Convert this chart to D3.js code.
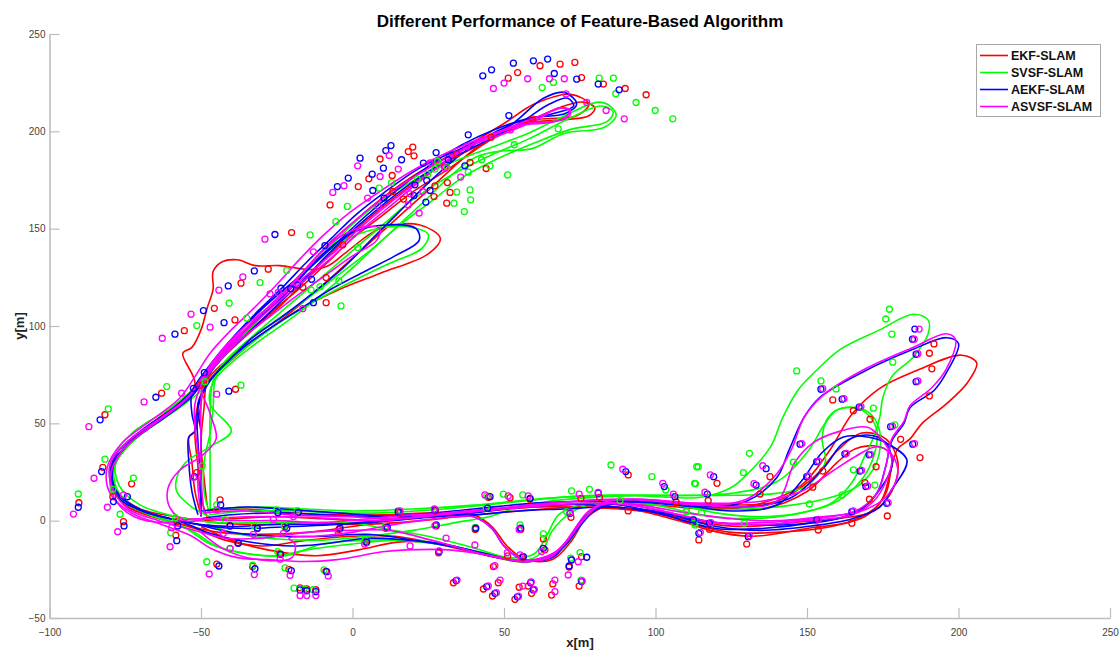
<!DOCTYPE html>
<html>
<head>
<meta charset="utf-8">
<script src="https://cdn.jsdelivr.net/npm/d3@7"></script>
<style>
  html, body { margin: 0; padding: 0; background: #fff; }
  svg { display: block; font-family: "Liberation Sans", Arial, Helvetica, sans-serif; }
</style>
</head>
<body>
<svg id="chart" width="1119" height="650"></svg>
<script>
// ---- Data -------------------------------------------------------------
const seriesNames = ["EKF-SLAM", "SVSF-SLAM", "AEKF-SLAM", "ASVSF-SLAM"];
const xTicks = [-100, -50, 0, 50, 100, 150, 200, 250];
const yTicks = [-50, 0, 50, 100, 150, 200, 250];

// Estimated vehicle trajectories, one array of laps per algorithm (x[m], y[m])
const ekfPath = [
  [[-49,0],[-40,1],[-25,2],[-10,1],[5,0],[20,2],[40,5],[60,7],[80,9],[100,8],[118,6],[135,9],[148,18],[157,35],[165,55],[174,68],[186,77],[201,85],[206,81],[203,71],[196,60],[188,50],[184,42],[180,37],[178,28],[176,14],[170,3],[158,-3],[140,-6],[125,-6],[110,-1],[95,5],[83,7],[76,0],[70,-12],[64,-19],[55,-21],[42,-17],[28,-12],[14,-8],[0,-8],[-15,-10],[-30,-13],[-42,-10],[-52,-4],[-65,2],[-75,8],[-79,18],[-78,30],[-71,43],[-60,56],[-51,68],[-46,80],[-39,92],[-31,104],[-23,117],[-15,130],[-8,142],[0,153],[10,166],[22,179],[36,191],[50,204],[60,214],[72,219],[78,214],[74,208],[61,206],[48,199],[38,188],[28,174],[18,160],[8,146],[-2,132],[-12,118],[-22,105],[-32,93],[-41,81],[-48,71],[-51,60],[-52,45],[-51,28],[-50,12],[-48,2]],
  [[-50,-3],[-40,-10],[-28,-15],[-12,-18],[2,-15],[15,-11],[30,-12],[45,-18],[57,-21],[65,-19],[71,-10],[76,1],[82,8],[92,10],[105,9],[120,7],[135,6],[150,15],[160,30],[166,37],[174,38],[178,33],[177,22],[174,9],[165,0],[150,-4],[132,-8],[118,-5],[105,2],[92,6],[75,7],[55,5],[35,2],[15,-1],[0,-2],[-15,-1],[-30,-2],[-45,-1],[-58,2],[-70,6],[-77,14],[-80,25],[-76,36],[-68,48],[-58,60],[-52,70],[-56,86],[-53,89],[-50,98],[-48,109],[-46,119],[-46,128],[-43,133],[-38,134],[-32,131],[-24,131],[-14,129],[-8,131],[-2,138],[9,150],[22,152],[29,145],[25,137],[9,127],[-4,119],[-17,109],[-27,99],[-36,89],[-44,79],[-49,70],[-50,60],[-52,46],[-54,43],[-53,30],[-52,15],[-50,3]],
  [[-48,5],[-35,6],[-20,4],[-5,3],[10,3],[28,4],[40,3],[46,-3],[51,-13],[57,-20],[66,-20],[72,-11],[77,1],[84,8],[95,10],[110,9],[125,8],[140,10],[152,22],[160,36],[168,45],[176,42],[180,30],[178,15],[172,5],[160,1],[145,-1],[130,-3],[115,-1],[100,4],[88,6],[75,7],[60,7],[45,5],[30,3],[15,1],[0,-3],[-15,-6],[-30,-7],[-44,-6],[-56,-2],[-66,2],[-74,7],[-79,16],[-79,27],[-74,39],[-63,52],[-54,62],[-49,73],[-42,85],[-33,98],[-24,110],[-16,123],[-8,136],[0,148],[9,160],[20,173],[32,185],[46,196],[58,205],[68,212],[76,215],[80,212],[78,208],[70,206],[57,204],[45,195],[32,181],[20,169],[10,157],[0,145],[-8,133],[-17,120],[-27,107],[-36,95],[-44,83],[-48,72],[-49,58],[-50,40],[-49,22],[-48,8]]
];

const svsfPath = [
  [[-47,3],[-35,5],[-20,5],[-5,4],[10,4],[30,6],[50,9],[70,12],[90,13],[105,12],[115,12],[125,17],[131,25],[138,38],[142,53],[147,67],[153,77],[161,88],[174,98],[185,106],[190,103],[190,96],[185,84],[178,74],[175,63],[174,53],[172,43],[169,33],[165,20],[158,9],[145,3],[130,1],[115,3],[100,8],[88,9],[80,7],[75,-3],[69,-15],[62,-20],[54,-20],[42,-16],[28,-12],[14,-10],[0,-12],[-15,-15],[-25,-18],[-38,-16],[-47,-12],[-55,-4],[-67,3],[-76,10],[-80,20],[-79,33],[-72,46],[-60,58],[-51,70],[-46,82],[-38,94],[-30,106],[-22,119],[-14,131],[-6,143],[2,155],[12,167],[24,178],[36,186],[48,193],[58,199],[70,208],[81,215],[85,213],[87,208],[83,202],[70,199],[59,191],[50,190],[41,187],[33,178],[25,166],[16,153],[7,140],[-2,127],[-11,115],[-21,103],[-31,92],[-40,81],[-46,71],[-47,60],[-40,46],[-47,38],[-55,30],[-58,22],[-58,15],[-53,7],[-47,2]],
  [[-48,-2],[-40,-6],[-28,-9],[-10,-10],[5,-8],[20,-5],[34,-1],[45,2],[55,7],[65,10],[80,12],[95,13],[110,13],[125,14],[140,20],[150,35],[156,50],[160,57],[168,57],[173,47],[172,33],[168,21],[160,10],[148,4],[135,2],[120,4],[105,9],[90,10],[80,9],[72,4],[66,-5],[62,-17],[55,-21],[46,-18],[33,-13],[20,-10],[5,-10],[-10,-12],[-22,-18],[-35,-17],[-45,-13],[-52,-6],[-62,1],[-72,7],[-78,17],[-78,30],[-71,43],[-60,56],[-51,68],[-44,82],[-36,95],[-28,108],[-20,120],[-12,133],[-4,143],[8,150],[18,151],[25,147],[23,140],[12,132],[0,123],[-11,114],[-22,104],[-31,94],[-39,84],[-45,74],[-46,58],[-47,45],[-49,30],[-49,15],[-47,3]],
  [[-47,6],[-30,7],[-15,6],[0,5],[20,6],[40,8],[60,11],[80,13],[100,13],[120,13],[140,14],[150,18],[156,30],[155,42],[157,53],[162,58],[170,56],[174,46],[173,30],[167,18],[158,12],[145,8],[130,6],[115,6],[100,10],[85,10],[75,8],[68,3],[64,-8],[60,-17],[52,-19],[40,-14],[25,-8],[10,-4],[0,-1],[-15,-1],[-30,-1],[-45,-1],[-58,2],[-70,8],[-77,18],[-78,31],[-70,44],[-58,57],[-49,68],[-43,80],[-35,92],[-26,104],[-17,116],[-8,128],[1,140],[10,152],[20,165],[32,177],[46,188],[58,196],[72,207],[82,213],[86,210],[84,205],[72,201],[60,194],[48,186],[36,176],[26,164],[15,151],[6,139],[-4,127],[-15,114],[-26,102],[-35,92],[-42,82],[-46,72],[-47,55],[-47,38],[-47,20],[-47,6]]
];

const aekfPath = [
  [[-50,1],[-40,3],[-25,4],[-10,3],[5,2],[20,3],[40,6],[60,9],[80,10],[100,9],[115,7],[130,10],[140,22],[144,36],[149,53],[154,63],[168,76],[185,88],[196,94],[200,91],[196,76],[192,67],[184,58],[182,50],[178,41],[176,28],[173,14],[166,4],[152,-1],[135,-4],[120,-4],[105,2],[92,7],[82,8],[76,-1],[70,-13],[64,-19],[56,-21],[44,-17],[30,-12],[18,-10],[5,-9],[-10,-12],[-20,-13],[-34,-11],[-46,-7],[-56,-1],[-67,4],[-76,10],[-80,21],[-78,34],[-70,46],[-59,58],[-51,70],[-46,82],[-39,95],[-31,108],[-23,120],[-15,133],[-7,145],[1,157],[10,168],[22,181],[37,192],[52,203],[63,217],[70,220],[74,214],[70,209],[59,207],[47,201],[36,193],[25,182],[14,169],[4,156],[-5,143],[-14,130],[-24,117],[-33,104],[-41,91],[-48,78],[-53,66],[-53,55],[-52,46],[-54,43],[-54,30],[-53,15],[-51,3]],
  [[-51,-2],[-40,-6],[-25,-8],[-10,-8],[5,-7],[20,-10],[35,-14],[48,-19],[57,-21],[65,-19],[71,-10],[77,2],[84,9],[95,10],[110,8],[125,5],[140,8],[148,20],[155,35],[162,43],[170,43],[176,40],[183,31],[178,16],[174,7],[165,1],[150,-3],[135,-5],[120,-3],[105,3],[92,6],[80,8],[65,8],[50,6],[35,3],[20,1],[5,-1],[-10,-2],[-25,-2],[-40,-3],[-50,-2],[-60,1],[-69,5],[-77,13],[-80,26],[-75,38],[-64,51],[-54,63],[-48,75],[-42,88],[-34,100],[-25,112],[-17,125],[-9,138],[0,148],[12,152],[21,150],[22,144],[14,136],[4,128],[-7,119],[-17,109],[-27,99],[-36,89],[-43,79],[-48,70],[-51,60],[-50,45],[-50,30],[-50,15],[-50,2]],
  [[-50,5],[-35,7],[-23,6],[-5,4],[16,2],[30,3],[40,2],[46,-4],[50,-13],[56,-20],[66,-19],[71,-10],[76,1],[84,8],[95,10],[115,8],[130,7],[145,12],[156,28],[162,40],[170,44],[176,40],[178,28],[174,16],[168,6],[160,1],[145,-2],[130,-2],[115,0],[100,5],[85,7],[70,6],[55,5],[40,3],[25,2],[10,0],[-5,-2],[-20,-3],[-35,-4],[-47,-3],[-60,1],[-71,6],[-78,15],[-79,28],[-73,41],[-62,53],[-53,64],[-48,74],[-41,87],[-32,100],[-24,112],[-16,124],[-8,137],[0,149],[9,161],[19,173],[30,184],[44,195],[56,205],[65,214],[71,217],[73,213],[66,209],[55,205],[44,197],[34,186],[24,172],[15,158],[6,144],[-3,130],[-13,117],[-23,105],[-33,94],[-41,82],[-47,72],[-51,58],[-51,40],[-50,22],[-50,5]]
];

const asvsfPath = [
  [[-48,1],[-35,2],[-20,2],[-5,1],[10,0],[25,3],[45,6],[65,9],[85,11],[100,10],[115,8],[130,11],[140,24],[145,37],[149,53],[155,64],[168,77],[185,89],[196,96],[199,93],[196,78],[191,68],[184,59],[182,51],[178,42],[176,28],[173,14],[166,5],[152,1],[135,-1],[120,-1],[105,4],[92,8],[82,9],[76,0],[70,-12],[64,-19],[56,-21],[46,-18],[32,-15],[18,-15],[10,-16],[-5,-20],[-16,-21],[-28,-20],[-38,-19],[-47,-14],[-53,-8],[-63,-2],[-73,4],[-80,14],[-81,27],[-76,40],[-66,52],[-57,63],[-52,74],[-47,86],[-40,98],[-32,110],[-24,123],[-17,135],[-10,146],[-2,157],[8,168],[20,180],[34,191],[50,201],[62,208],[70,212],[72,209],[67,205],[55,203],[44,197],[33,187],[22,174],[12,161],[2,148],[-7,135],[-17,122],[-27,109],[-36,96],[-44,83],[-50,70],[-47,55],[-45,42],[-50,33],[-57,26],[-61,16],[-60,6],[-55,0],[-48,1]],
  [[-50,-6],[-42,-15],[-31,-20],[-20,-19],[-19,-12],[-21,-9],[-12,-8],[0,-6],[10,-3],[22,0],[34,2],[40,2],[46,-4],[50,-13],[56,-20],[65,-19],[71,-10],[77,2],[84,10],[95,11],[110,9],[125,7],[140,10],[146,30],[152,40],[161,46],[170,48],[174,43],[178,32],[176,20],[172,10],[165,3],[150,0],[135,-2],[120,-1],[105,4],[92,8],[80,9],[65,8],[50,6],[35,4],[20,3],[5,1],[-10,-1],[-25,0],[-40,0],[-52,1],[-62,-1],[-72,2],[-78,10],[-80,22],[-76,36],[-66,49],[-55,62],[-49,74],[-43,86],[-35,99],[-26,112],[-18,125],[-11,137],[-4,146],[4,151],[9,150],[8,144],[0,136],[-9,126],[-18,116],[-28,104],[-37,93],[-44,82],[-49,72],[-52,60],[-52,48],[-51,35],[-51,18],[-50,3]],
  [[-49,4],[-35,5],[-20,3],[0,2],[15,1],[35,4],[55,7],[75,10],[95,11],[115,9],[135,10],[148,15],[158,25],[166,33],[173,38],[178,34],[180,24],[176,12],[168,5],[155,2],[140,0],[125,1],[110,4],[95,8],[85,9],[78,5],[73,-5],[68,-15],[60,-20],[52,-20],[40,-16],[26,-10],[12,-5],[0,-5],[-15,-6],[-30,-9],[-42,-9],[-52,-5],[-64,0],[-74,6],[-79,16],[-80,29],[-74,41],[-63,53],[-54,64],[-49,75],[-43,87],[-35,99],[-27,111],[-19,123],[-12,135],[-5,146],[3,157],[13,169],[24,180],[38,192],[52,200],[62,207],[68,212],[72,211],[69,206],[58,204],[46,198],[35,189],[24,177],[13,164],[3,151],[-6,138],[-16,125],[-26,112],[-36,99],[-44,86],[-49,74],[-50,58],[-50,40],[-50,22],[-49,4]]
];

// Estimated landmark positions per algorithm (x[m], y[m])
const ekfLandmarks = [
  [61.9,233.7],[68.5,234.5],[73.4,235.4],[54.5,230.2],[51.4,227.3],[75.6,227.6],[82.8,224.3],[90,222],[96.9,218.8],[59.3,206.4],[45.7,197],[34.4,188.3],[38.8,184],[44.1,180.9],[18.4,189.6],[19.9,191.9],[20.3,187.4],[9.1,185.8],[13.1,177.3],[5.4,175.6],[1.9,171.6],[13.3,169.1],[16.8,165.2],[26.9,166.5],[31.1,163.1],[32.2,168.6],[27.2,172],[30.5,181.9],[31.3,173.7],[-7.4,162.2],
  [-20.1,148],[-27.8,129.2],[-36.8,122],[-45.6,109.1],[-38.8,103.1],[-55.5,97.6],[-8.7,112],[-3.2,141.7],[-8.7,124.9],[-16.4,119.9],[-63,65.5],[-38.6,67.5],[-50.3,69.7],
  [-81.7,54.4],[-82.4,27.4],[-90.3,9.2],[-79.1,12.3],[-72.9,18.9],[-51.4,24.7],
  [-75.6,-0.5],[-58.3,-7.5],[-58,-0.5],[-43.7,10.7],[-40.4,-2.7],[-44.8,-22.3],[-37.9,-11.3],[-31.4,-3.9],[-22.3,-3.1],[-33,-23.5],[-24,-17],[-21,-25],[-17.3,-34.5],[-15.1,-35],[-12.1,-35.5],[-8.8,-26],[-4.5,-4.5],[4.3,-11],[11,-3.5],
  [15.5,4],[27.4,5],[27.6,-2.7],[28.4,-16.5],[40.5,-4.5],[44.8,12],[52,11.8],[58.6,11],[55.5,-4.5],[63,-9.4],[63.5,-15],[51.2,-18.1],[56,-18.8],[46.5,-23.6],[33.3,-31.9],[48.1,-31.9],[43.2,-35.1],[46.2,-38.7],[53.6,-40.4],[55,-34.2],[58,-33.6],[59.1,-37.3],[66.1,-32.5],[65.7,-38.2],[71.5,-23.8],[75.6,-18.5],[74.8,-33.6],[75.4,11.5],[81.5,12],[72.1,1.7],[91,23.5],[91,5],[106.8,9.6],[114.3,-9.9],[120.3,19.2],[117.4,10.3],
  [191.9,90.8],[190.4,86],[191.2,78],[190.4,64.1],[187.3,32.4],[180.9,41.8],[165.3,56.5],[170.8,52.1],[158.5,62],[155.2,25.5],[151.9,17.2],[137.8,22.6],[134.5,13.7],[170.6,11],[172.8,27.7],[169.1,19.5],[176.5,2.4],[164.8,-1.3],[153.7,-4.8],[130.1,-12],[117.8,-4.4]
];

const svsfLandmarks = [
  [81.4,227.3],[86.1,227.3],[66.3,225.1],[62.6,222.5],[86.9,219.3],[93.6,214.8],[99.9,210.7],[105.7,206.4],[67.9,201.3],[53.4,193.1],[51.2,177.6],[42.6,185.4],[45.4,182.3],[38.2,179],[38.8,169.9],[39,164.8],[34.4,168.8],[33.5,163.1],[36.9,158.8],[28.1,184.5],[24.8,178],[21.4,175.4],[31.1,181.9],[8.8,170.8],[-1.7,161.4],[12.9,173.7],[27.2,180.6],[-5.5,153.6],
  [-14,146.8],[-21.7,128.5],[-30.5,122.3],[-40.7,111.7],[-34.9,104],[-51.4,100.2],[-3.8,110.3],[1.7,140.3],[-4.5,123.2],[-10.7,120.2],[-13.7,118.6],[-61.3,68.9],[-36.8,69.6],[-48.7,71.4],
  [-80.6,57.4],[-81.7,31.6],[-90.5,13.7],[-79.1,16.1],[-72.3,21.9],[-49.6,28.1],[-76.7,3.3],
  [-60,-6.2],[-58.5,1.5],[-44.8,8.1],[-42.1,0.4],[-48.1,-21.1],[-40.4,-14.5],[-32.4,-2.7],[-25,5.5],[-18.2,5.1],[-22.5,-2.5],[-32.9,-22.9],[-24.7,-15.9],[-22.3,-24.2],[-19.3,-34.7],[-16,-35],[-13,-35.5],[-9.4,-25.3],[4.1,-10.3],[10.7,-3.1],[15,5],
  [44.3,12.7],[44.1,6.7],[40.5,-3.5],[49.8,13.6],[56.2,13.2],[55.3,-2.2],[63,-6.8],[72,-19.3],[75.1,-16.4],[75.4,-30.5],[72.3,15.3],[78.2,16.1],[70.7,4.6],[85.3,28.6],[88.3,10.3],[98.8,22.6],[103.4,15.8],[110.2,4.6],[112.6,0.4],[113,-2.2],[114.1,27.7],[113.2,18.9],
  [177.2,108.6],[176,103.6],[178,95.8],[146.6,76.9],[154.6,71.8],[159.6,67.7],[171.9,57.8],[178.3,81.4],[179,49.2],[131,34.6],[113.6,27.7],[112.9,19.2],[129,24.7],[145.5,30],[165.3,26.1],[172.4,18.3],[161.6,13.2],[150.8,8.6],[129.3,-1.3],[115.2,4.1],[110.1,4.6],[112.8,-1.3]
];

const aekfLandmarks = [
  [43,228.5],[45.9,231.6],[53.1,235],[59.7,236.2],[64.4,237.1],[66.6,229.7],[74,226.8],[81.1,224.3],[88,221.3],[51.6,208.1],[38.2,198.2],[27.6,189.1],[12.7,192.7],[11,190.1],[2.5,186.2],[-1.4,176],[-5,171.6],[16.2,185.4],[23.4,183.7],[31.6,185.4],[37.1,182.3],[10.2,181.1],[6.5,178],[6.7,169.6],[10.4,165.7],[20.6,172.5],[20.3,167],[24.5,174.7],[25.6,169.6],[24.2,163.6],
  [-25.6,147],[-32.4,128.3],[-41,120.6],[-49.2,107.9],[-42.4,101.7],[-58.6,95.8],[-12.9,112],[-9.1,141.3],[-13.5,124],[-23.6,119.4],[-20.4,119.1],[-18.2,121.1],[-64.9,63.4],[-40.8,66.5],[-52.5,68],[-48.9,76],
  [-83.3,51.8],[-82.8,25.2],[-90.5,6.9],[-78.9,9.8],[-74.3,12.3],[-52.2,22.6],
  [-75.4,-2.7],[-58,-10.3],[-57.7,-2.7],[-43.5,8.1],[-40.4,-2.7],[-44.1,-23.3],[-37.7,-11.6],[-31.4,-3.9],[-24.6,4.1],[-17.9,4.3],[-21.7,-3.9],[-32.2,-24.7],[-23.7,-17.3],[-20.2,-25.7],[-17.3,-35.6],[-15.1,-36],[-12.1,-36.5],[-8.5,-26.2],[-4.1,-3.9],[4.7,-11.1],[11.5,-3.4],[15.1,4.6],
  [27.2,5.5],[27.6,-2.2],[28.6,-15.9],[40.7,-3.9],[45.4,12.3],[44.6,6.4],[58.6,11.5],[55.5,-3.9],[63,-14.2],[56.4,-18.5],[34.2,-30.8],[44.3,-33.9],[47,-37.3],[54.4,-39.1],[58.8,-31.9],[59.7,-35.6],[72.3,-20.2],[71.5,-23.3],[77.3,-18.8],[75.6,-31.3],[81.1,14.1],[71.8,3.8],[90.2,25.2],[102.9,17.5],[106.4,12.3],[119.2,22.6],[117.1,13.6],[114.3,-6.5],
  [185.6,98.4],[184.8,93.2],[186,85.5],[186,71.4],[154.6,67.5],[161.6,62.4],[167.2,58.3],[177.6,48.3],[184.9,39.3],[147.7,39.3],[153.2,30.3],[136.5,26.7],[133.2,18.3],[149.9,22.6],[162.5,34.3],[167.5,25.5],[169.4,17.5],[170.5,33.8],[164.8,4.6],[176.3,8.9],[153.2,0.4],[130.6,-8.2],[117.8,-1.3],[112.5,0.4]
];

const asvsfLandmarks = [
  [46.5,222],[50,224.8],[57.8,227],[65,227],[69.9,227],[70.5,219.2],[77.3,214.8],[83.7,210.7],[89.7,206.4],[52.1,200.7],[37.7,192.2],[1.7,182.3],[-2.8,172.1],[-6.5,168.6],[9.1,176.8],[12.1,187.6],[15.1,180.6],[19,167.9],[18.4,162.2],[22,158],[35.7,176.5],[25.6,183.8],[23.2,169.1],[5,165.7],[8.5,161.4],[30.5,181.2],
  [-28.9,144.6],[-36.2,125.2],[-44.1,118.4],[-53.3,106.1],[-47,99.4],[-62.8,93.7],[-16.4,108.9],[-12.9,138.1],[-24.5,117.2],[-27.2,116.5],[-56.4,65.5],[-44.8,65],[-18.4,122],
  [-87,48.3],[-68.8,61],[-85.3,21.8],[-92.1,3.4],[-80.9,6.9],[-75.6,13.2],[-52.5,22.3],
  [-77.5,-5.7],[-60.2,-13.4],[-59.7,-3.6],[-44.8,5.5],[-42.6,-6.5],[-47.3,-27.4],[-40.4,-14.2],[-32.7,-7],[-26.1,0.7],[-19.5,2.1],[-22.8,-6.5],[-32.4,-27.7],[-23.9,-19.8],[-20.6,-28.1],[-17.3,-38.5],[-15.1,-38.5],[-12.1,-38.5],[-8,-28.4],[-4.7,-5.7],[4,-12],[11,-4],[15.7,5],
  [27,6],[27.2,-2.5],[30.9,-9],[19,-13],[28.6,-15.5],[40.4,-12.5],[43.7,13.2],[51.4,12.7],[58,12.7],[55,-4.5],[62.4,-15.9],[51.1,-16.4],[55.3,-17.6],[47,-23.1],[34.5,-30.5],[48.7,-30.5],[44.8,-33.5],[47.5,-37],[54.8,-38.8],[56.2,-33.6],[59,-31.5],[60,-35.3],[66.8,-30.5],[66.8,-36.5],[71.2,-27.9],[74.5,-21.1],[75.8,-31],[74.8,13.6],[81.1,14.5],[71.8,4.2],[89.2,26.4],[102.4,19.2],[105.9,13.6],[118.1,23.5],[116.3,14.6],[114.8,-6],
  [187,98.4],[185.4,93.2],[186.6,85.8],[186.6,71.8],[155.2,67.8],[162.2,62.7],[167.8,58.6],[178.2,48.6],[185.5,39.6],[148.3,39.6],[153.8,30.6],[135.4,28.2],[132.5,19],[150.5,23],[163,34.6],[168,25.8],[170,17.8],[171,34.1],[165.3,5],[176.8,9.2],[153.8,0.7],[131,-7.8],[118.3,-1]
];

// ---- Drawing ----------------------------------------------------------
const colors = ["#ff0000", "#00ff00", "#0000ff", "#ff00ff"];
const paths = [ekfPath, svsfPath, aekfPath, asvsfPath];
const landmarks = [ekfLandmarks, svsfLandmarks, aekfLandmarks, asvsfLandmarks];

const svg = d3.select("#chart");
const x = d3.scaleLinear().domain([-100, 250]).range([49.5, 1110]);
const y = d3.scaleLinear().domain([-50, 250]).range([618, 34]);

const axisColor = "#bdbdbd";
const labelColor = "#444";

// Axes (left and bottom only, ticks pointing inward)
const xAxis = d3.axisBottom(x).tickValues(xTicks).tickSize(-10).tickPadding(14).tickSizeOuter(0);
const yAxis = d3.axisLeft(y).tickValues(yTicks).tickSize(-10).tickPadding(14).tickSizeOuter(0);

const gx = svg.append("g").attr("transform", `translate(0,${y(-50)})`).call(xAxis);
const gy = svg.append("g").attr("transform", `translate(${x(-100)},0)`).call(yAxis);
[gx, gy].forEach(g => {
  g.select(".domain").attr("stroke", axisColor).attr("stroke-width", 1.6);
  g.selectAll(".tick line").attr("stroke", axisColor).attr("stroke-width", 1.2);
  g.selectAll(".tick text").attr("fill", labelColor).style("font-size", "10px")
    .style("font-family", '"Liberation Sans", Arial, sans-serif');
});
gx.selectAll(".tick text").attr("dy", "0.35em");
gy.selectAll(".tick text").attr("x", -4);

// Trajectories
const line = d3.line()
  .x(d => x(d[0]))
  .y(d => y(d[1]))
  .curve(d3.curveCatmullRom.alpha(0.5));

const plot = svg.append("g");
paths.forEach((laps, i) => {
  plot.append("g")
    .selectAll("path")
    .data(laps)
    .join("path")
    .attr("d", line)
    .attr("fill", "none")
    .attr("stroke", colors[i])
    .attr("stroke-width", 1.6)
    .attr("stroke-linejoin", "round");
});

// Landmarks
landmarks.forEach((pts, i) => {
  plot.append("g")
    .selectAll("circle")
    .data(pts)
    .join("circle")
    .attr("cx", d => x(d[0]))
    .attr("cy", d => y(d[1]))
    .attr("r", 3)
    .attr("fill", "none")
    .attr("stroke", colors[i])
    .attr("stroke-width", 1.3);
});

// Title and axis labels
svg.append("text")
  .attr("x", 580).attr("y", 27)
  .attr("text-anchor", "middle")
  .style("font-size", "17px").style("font-weight", "bold").attr("fill", "#000")
  .text("Different Performance of Feature-Based Algorithm");

svg.append("text")
  .attr("x", 580).attr("y", 647)
  .attr("text-anchor", "middle")
  .style("font-size", "13px").style("font-weight", "bold").attr("fill", "#222")
  .text("x[m]");

svg.append("text")
  .attr("transform", "translate(24,326) rotate(-90)")
  .attr("text-anchor", "middle")
  .style("font-size", "13px").style("font-weight", "bold").attr("fill", "#222")
  .text("y[m]");

// Legend
const legend = svg.append("g");
legend.append("rect")
  .attr("x", 976.5).attr("y", 44.5).attr("width", 124).attr("height", 72)
  .attr("fill", "#fff").attr("stroke", "#a8a8a8").attr("stroke-width", 1);
seriesNames.forEach((name, i) => {
  const ly = 55.5 + i * 17;
  legend.append("line")
    .attr("x1", 980).attr("x2", 1008).attr("y1", ly).attr("y2", ly)
    .attr("stroke", colors[i]).attr("stroke-width", 1.6);
  legend.append("text")
    .attr("x", 1011).attr("y", ly + 4.5)
    .style("font-size", "12.5px").style("font-weight", "bold").attr("fill", "#111")
    .text(name);
});
</script>
</body>
</html>
